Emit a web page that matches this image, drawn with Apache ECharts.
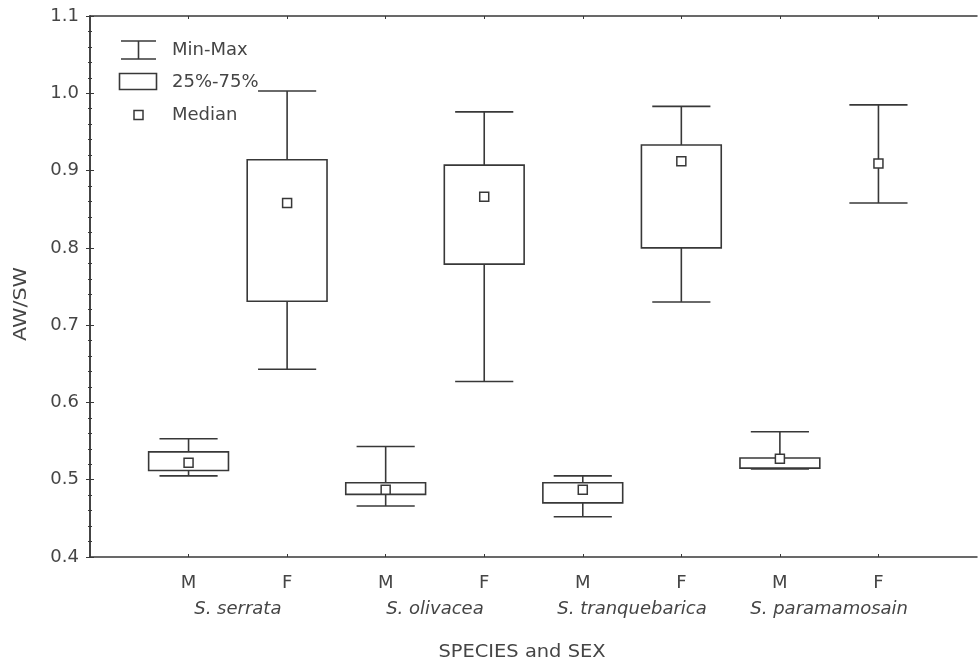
<!DOCTYPE html>
<html>
<head>
<meta charset="utf-8">
<script src="https://cdn.jsdelivr.net/npm/echarts@6/dist/echarts.min.js"></script>
<style>html,body{margin:0;padding:0;background:#fff}#c{width:980px;height:662px}</style>
</head>
<body>
<div id="c"></div>
<script>
// ---- data ----
var sexLabels = ['M', 'F', 'M', 'F', 'M', 'F', 'M', 'F'];
var speciesLabels = ['S. serrata', 'S. olivacea', 'S. tranquebarica', 'S. paramamosain'];
var positions = [1, 2, 3, 4, 5, 6, 7, 8];
var speciesPositions = [1.5, 3.5, 5.5, 7.5];
var minVals = [0.505, 0.643, 0.466, 0.627, 0.452, 0.730, 0.514, 0.858];
var q1Vals  = [0.512, 0.731, 0.481, 0.779, 0.470, 0.800, 0.515, null];
var medVals = [0.522, 0.858, 0.487, 0.866, 0.487, 0.912, 0.527, 0.909];
var q3Vals  = [0.536, 0.914, 0.496, 0.907, 0.496, 0.933, 0.528, null];
var maxVals = [0.553, 1.003, 0.543, 0.976, 0.505, 0.983, 0.562, 0.985];
var yTicks = [0.4, 0.5, 0.6, 0.7, 0.8, 0.9, 1.0, 1.1];

var LINE = '#383838';
var TEXT = '#454545';
var FONT = 'DejaVu Sans';

var whiskerData = positions.map(function (p, i) { return [p, minVals[i], maxVals[i]]; });
var boxData = [];
positions.forEach(function (p, i) { if (q1Vals[i] != null) boxData.push([p, q1Vals[i], q3Vals[i]]); });
var medData = positions.map(function (p, i) { return [p, medVals[i]]; });

var chart = echarts.init(document.getElementById('c'), null, { renderer: 'canvas' });

var option = {
  backgroundColor: '#fff',
  animation: false,
  grid: { left: 90, right: 3, top: 16, bottom: 105 },
  xAxis: [
    {
      type: 'value', position: 'bottom', min: 0, max: 9,
      axisLine: { show: true, lineStyle: { color: LINE, width: 1.5 } },
      axisTick: { show: true, inside: true, length: 3, customValues: positions, lineStyle: { color: LINE } },
      splitLine: { show: false },
      axisLabel: {
        customValues: positions, margin: 17,
        color: TEXT, fontFamily: FONT, fontSize: 18,
        formatter: function (v) { return sexLabels[Math.round(v) - 1] || ''; }
      }
    },
    {
      type: 'value', position: 'bottom', min: 0, max: 9,
      axisLine: { show: false }, axisTick: { show: false }, splitLine: { show: false },
      axisLabel: {
        customValues: speciesPositions, margin: 43,
        color: TEXT, fontFamily: FONT, fontSize: 18, fontStyle: 'italic',
        formatter: function (v) { return speciesLabels[Math.round((v - 1.5) / 2)] || ''; }
      }
    },
    {
      type: 'value', position: 'top', min: 0, max: 9,
      axisLine: { show: true, lineStyle: { color: LINE, width: 1.5 } },
      axisTick: { show: true, inside: true, length: 3, customValues: positions, lineStyle: { color: LINE } },
      axisLabel: { show: false }, splitLine: { show: false }
    }
  ],
  yAxis: [
    {
      type: 'value', position: 'left', min: 0.4, max: 1.1, interval: 0.1,
      axisLine: { show: true, lineStyle: { color: LINE, width: 1.5 } },
      axisTick: { show: true, inside: true, length: 4, lineStyle: { color: LINE } },
      minorTick: { show: true, splitNumber: 5, length: 2, lineStyle: { color: LINE } },
      splitLine: { show: false },
      axisLabel: {
        customValues: yTicks, margin: 11, color: TEXT, fontFamily: FONT, fontSize: 18,
        formatter: function (v) { return v.toFixed(1); }
      }
    },
    {
      type: 'value', position: 'right', min: 0.4, max: 1.1, interval: 0.1,
      axisLine: { show: true, lineStyle: { color: LINE, width: 1.5 } },
      axisTick: { show: true, inside: true, length: 4, lineStyle: { color: LINE } },
      minorTick: { show: true, splitNumber: 5, length: 2, lineStyle: { color: LINE } },
      splitLine: { show: false }, axisLabel: { show: false }
    }
  ],
  series: [
    {
      name: 'Min-Max', type: 'custom', xAxisIndex: 0, yAxisIndex: 0,
      data: whiskerData, z: 2,
      renderItem: function (params, api) {
        var x = api.value(0);
        var pLo = api.coord([x, api.value(1)]);
        var pHi = api.coord([x, api.value(2)]);
        var half = (api.coord([x + 0.295, 0.5])[0] - api.coord([x, 0.5])[0]);
        var st = { stroke: LINE, lineWidth: 1.6 };
        return {
          type: 'group',
          children: [
            { type: 'line', shape: { x1: pLo[0], y1: pLo[1], x2: pHi[0], y2: pHi[1] }, style: st },
            { type: 'line', shape: { x1: pLo[0] - half, y1: pLo[1], x2: pLo[0] + half, y2: pLo[1] }, style: st },
            { type: 'line', shape: { x1: pHi[0] - half, y1: pHi[1], x2: pHi[0] + half, y2: pHi[1] }, style: st }
          ]
        };
      }
    },
    {
      name: '25%-75%', type: 'custom', xAxisIndex: 0, yAxisIndex: 0,
      data: boxData, z: 3,
      renderItem: function (params, api) {
        var x = api.value(0);
        var pLo = api.coord([x - 0.405, api.value(1)]);
        var pHi = api.coord([x + 0.405, api.value(2)]);
        return {
          type: 'rect',
          shape: { x: pLo[0], y: pHi[1], width: pHi[0] - pLo[0], height: pLo[1] - pHi[1] },
          style: { fill: '#fff', stroke: LINE, lineWidth: 1.6 }
        };
      }
    },
    {
      name: 'Median', type: 'scatter', xAxisIndex: 0, yAxisIndex: 0,
      data: medData, z: 4, symbol: 'rect', symbolSize: 9,
      itemStyle: { color: '#fff', borderColor: LINE, borderWidth: 1.5, opacity: 1 }
    }
  ],
  graphic: [
    // legend
    { type: 'line', shape: { x1: 121, y1: 41, x2: 156, y2: 41 }, style: { stroke: LINE, lineWidth: 1.6 } },
    { type: 'line', shape: { x1: 121, y1: 59, x2: 156, y2: 59 }, style: { stroke: LINE, lineWidth: 1.6 } },
    { type: 'line', shape: { x1: 138.5, y1: 41, x2: 138.5, y2: 59 }, style: { stroke: LINE, lineWidth: 1.6 } },
    { type: 'rect', shape: { x: 119.5, y: 73.5, width: 37, height: 16 }, style: { fill: '#fff', stroke: LINE, lineWidth: 1.6 } },
    { type: 'rect', shape: { x: 134, y: 110.5, width: 9, height: 9 }, style: { fill: '#fff', stroke: LINE, lineWidth: 1.5 } },
    { type: 'text', left: 172, top: 41, style: { text: 'Min-Max', fill: TEXT, font: '18px "DejaVu Sans"' } },
    { type: 'text', left: 172, top: 73, style: { text: '25%-75%', fill: TEXT, font: '18px "DejaVu Sans"' } },
    { type: 'text', left: 172, top: 106, style: { text: 'Median', fill: TEXT, font: '18px "DejaVu Sans"' } },
    // axis titles
    { type: 'text', x: 21, y: 304, rotation: Math.PI / 2, scaleX: 1.15,
      style: { text: 'AW/SW', fill: TEXT, font: '18px "DejaVu Sans"', textAlign: 'center', textVerticalAlign: 'middle' } },
    { type: 'text', x: 522, y: 652, scaleX: 1.08,
      style: { text: 'SPECIES and SEX', fill: TEXT, font: '18px "DejaVu Sans"', textAlign: 'center', textVerticalAlign: 'middle' } }
  ]
};
chart.setOption(option);
</script>
</body>
</html>
